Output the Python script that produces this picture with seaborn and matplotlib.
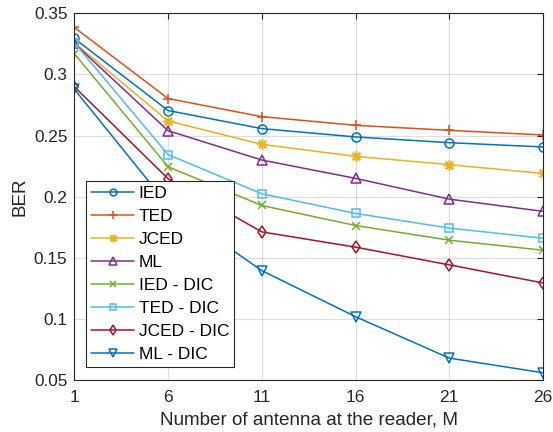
import numpy as np
import pandas as pd
import matplotlib
matplotlib.use("Agg")
import matplotlib.pyplot as plt
import seaborn as sns

# Number of reader antennas
antennas = [1, 6, 11, 16, 21, 26]

# Bit error rate of each detection scheme
ied = [0.3295, 0.2705, 0.2557, 0.2489, 0.2442, 0.2407]
ted = [0.3385, 0.2803, 0.2655, 0.2584, 0.2543, 0.2505]
jced = [0.3260, 0.2620, 0.2428, 0.2330, 0.2262, 0.2190]
ml = [0.3255, 0.2540, 0.2300, 0.2150, 0.1980, 0.1880]
ied_dic = [0.3170, 0.2245, 0.1928, 0.1764, 0.1644, 0.1562]
ted_dic = [0.3260, 0.2344, 0.2024, 0.1863, 0.1743, 0.1660]
jced_dic = [0.2900, 0.2147, 0.1712, 0.1587, 0.1442, 0.1294]
ml_dic = [0.2880, 0.1930, 0.1395, 0.1018, 0.0679, 0.0559]

schemes = ["IED", "TED", "JCED", "ML", "IED - DIC", "TED - DIC", "JCED - DIC", "ML - DIC"]
series = [ied, ted, jced, ml, ied_dic, ted_dic, jced_dic, ml_dic]
colors = ["#0072BD", "#D95319", "#EDB120", "#7E2F8E",
          "#77AC30", "#4DBEEE", "#A2142F", "#0072BD"]
# '*' in the MATLAB sense: an eight-armed asterisk
markers = ["o", "+", (8, 2, 0), "^", "x", "s", "d", "v"]
sizes = [6.5, 7, 7.5, 7, 6, 6, 6.5, 7]

df = pd.DataFrame({
    "M": np.tile(antennas, len(schemes)),
    "BER": np.concatenate(series),
    "scheme": np.repeat(schemes, len(antennas)),
})

sns.set_theme(style="whitegrid")
plt.rcParams["font.family"] = ["Liberation Sans", "DejaVu Sans"]

fig = plt.figure(figsize=(5.53, 4.32), dpi=100)
ax = fig.add_axes([0.1344, 0.1204, 0.8476, 0.8486])

for name, c, m, s in zip(schemes, colors, markers, sizes):
    sns.lineplot(
        data=df[df["scheme"] == name], x="M", y="BER",
        color=c, marker=m, markersize=s, linewidth=1.1,
        markerfacecolor="none", markeredgecolor=c, markeredgewidth=1.1,
        legend=False, ax=ax,
    )

ax.set_xlim(1, 26)
ax.set_ylim(0.05, 0.35)
ax.set_xticks(antennas)
ax.set_yticks(np.arange(0.05, 0.351, 0.05))
ax.set_yticklabels(["0.05", "0.1", "0.15", "0.2", "0.25", "0.3", "0.35"])

ax.set_facecolor("white")
ax.grid(True, color="#262626", alpha=0.15, linewidth=0.8)
for sp in ax.spines.values():
    sp.set_color("#262626")
    sp.set_linewidth(0.8)
ax.tick_params(direction="in", length=4, width=0.8, colors="#262626",
               labelsize=12.4, top=True, right=True, pad=5)
ax.tick_params(axis="x", pad=7)

ax.set_xlabel("Number of antenna at the reader, M", fontsize=13.6,
              color="#262626", labelpad=5)
ax.set_ylabel("BER", fontsize=13.6, color="#262626", labelpad=4)

leg = ax.legend(
    ax.lines, schemes, loc="lower left", bbox_to_anchor=(0.0243, 0.0355),
    fontsize=12.5, frameon=True, fancybox=False, framealpha=1,
    edgecolor="#262626", handlelength=2.5, handletextpad=0.25,
    labelspacing=0.45, borderpad=0.3, borderaxespad=0,
)
leg.get_frame().set_linewidth(0.8)
for t in leg.get_texts():
    t.set_color("black")
for h in leg.legend_handles:
    h.set_markersize(h.get_markersize() * 0.75)

fig.savefig("out.png", dpi=100)
